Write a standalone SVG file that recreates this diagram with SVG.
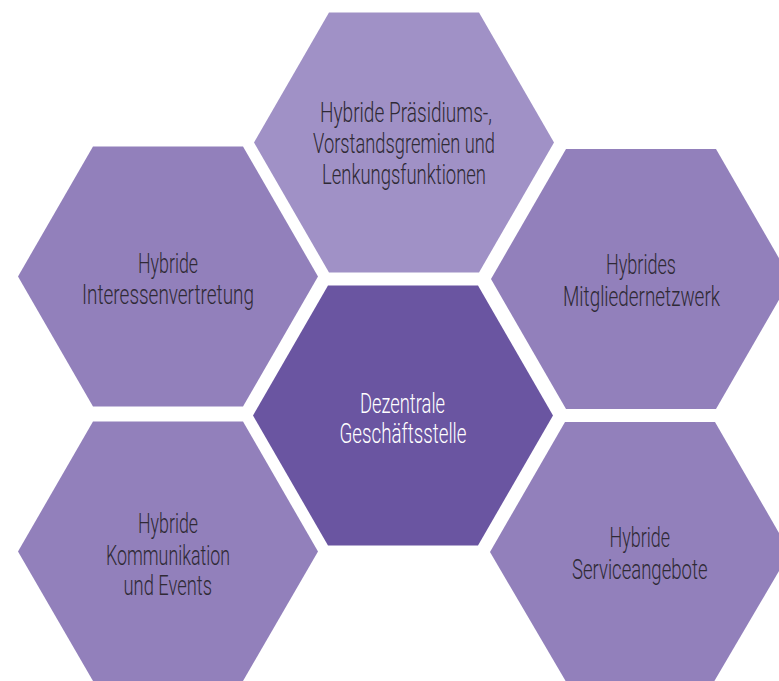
<svg xmlns="http://www.w3.org/2000/svg" width="779" height="681" viewBox="0 0 779 681">
<style>
.hex{fill:#9280bb}
.hex-top{fill:#a091c6}
.hex-center{fill:#6a55a1}
.lbl{font-family:Roboto,"Liberation Sans",Arial,sans-serif;font-weight:300;font-size:28px;fill:#2f2a35}
.lbl-w{font-family:Roboto,"Liberation Sans",Arial,sans-serif;font-weight:300;font-size:28px;fill:#ffffff}
</style>
<rect width="779" height="681" fill="#ffffff"/>
<g id="connectors"/>
<g id="node-top">
<polygon class="hex-top" points="254,142.5 329,12.5 479,12.5 554,142.5 479,272.5 329,272.5"/>
<text class="lbl" x="320" y="122" textLength="172" lengthAdjust="spacingAndGlyphs">Hybride Präsidiums-,</text>
<text class="lbl" x="313" y="153" textLength="182" lengthAdjust="spacingAndGlyphs">Vorstandsgremien und</text>
<text class="lbl" x="322" y="184" textLength="164" lengthAdjust="spacingAndGlyphs">Lenkungsfunktionen</text>
</g>
<g id="node-left-top">
<polygon class="hex" points="18,276.5 93,146.5 243,146.5 318,276.5 243,406.5 93,406.5"/>
<text class="lbl" x="138" y="273" textLength="60" lengthAdjust="spacingAndGlyphs">Hybride</text>
<text class="lbl" x="82" y="303.5" textLength="172" lengthAdjust="spacingAndGlyphs">Interessenvertretung</text>
</g>
<g id="node-right-top">
<polygon class="hex" points="491,279 566,149 716,149 779,258.2 779,299.8 716,409 566,409"/>
<text class="lbl" x="606" y="274" textLength="70" lengthAdjust="spacingAndGlyphs">Hybrides</text>
<text class="lbl" x="563" y="305.5" textLength="157" lengthAdjust="spacingAndGlyphs">Mitgliedernetzwerk</text>
</g>
<g id="node-center">
<polygon class="hex-center" points="253,415.5 328,285.5 478,285.5 553,415.5 478,545.5 328,545.5"/>
<text class="lbl-w" x="360" y="413" textLength="85" lengthAdjust="spacingAndGlyphs">Dezentrale</text>
<text class="lbl-w" x="339.5" y="443" textLength="127" lengthAdjust="spacingAndGlyphs">Geschäftsstelle</text>
</g>
<g id="node-left-bottom">
<polygon class="hex" points="18,551.5 93,421.5 243,421.5 318,551.5 243,681 93,681"/>
<text class="lbl" x="138" y="533" textLength="60" lengthAdjust="spacingAndGlyphs">Hybride</text>
<text class="lbl" x="106" y="564.5" textLength="124" lengthAdjust="spacingAndGlyphs">Kommunikation</text>
<text class="lbl" x="123.5" y="594.5" textLength="88.5" lengthAdjust="spacingAndGlyphs">und Events</text>
</g>
<g id="node-right-bottom">
<polygon class="hex" points="490,552 565,422 715,422 779,532.9 779,571.1 714.4,681 565.6,681"/>
<text class="lbl" x="609.5" y="547" textLength="60.5" lengthAdjust="spacingAndGlyphs">Hybride</text>
<text class="lbl" x="572" y="578.5" textLength="135.5" lengthAdjust="spacingAndGlyphs">Serviceangebote</text>
</g>
</svg>
